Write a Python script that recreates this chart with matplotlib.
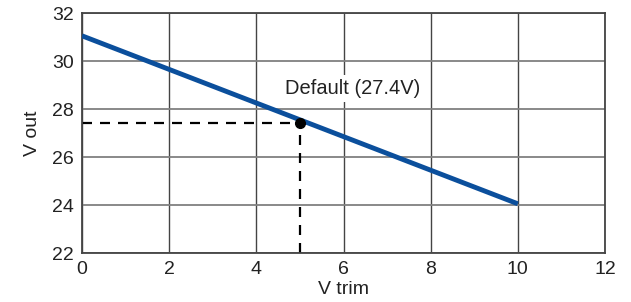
import numpy as np
import matplotlib.pyplot as plt

plt.rcParams['font.family'] = ['Liberation Sans', 'DejaVu Sans']

# Данные
v_trim = [0, 10]
v_out = [31.05, 24.05]
default_trim = 5
default_out = 27.4
x_ticks = [0, 2, 4, 6, 8, 10, 12]
y_ticks = [22, 24, 26, 28, 30, 32]

fig = plt.figure(figsize=(6.31, 3.02), dpi=100)
ax = fig.add_axes([82 / 631, 49 / 302, 523 / 631, 240 / 302])

# Сетка
ax.set_xlim(0, 12)
ax.set_ylim(22, 32)
ax.set_xticks(x_ticks)
ax.set_yticks(y_ticks)
ax.xaxis.grid(True, color='#444444', linewidth=1.0)
ax.yaxis.grid(True, color='#808080', linewidth=1.3)
ax.tick_params(length=0, labelsize=14, colors='#222222')
ax.tick_params(axis='x', pad=6)
ax.tick_params(axis='y', pad=6)
for s in ax.spines.values():
    s.set_color('#444444')
    s.set_linewidth(1.3)

# Основная линия
ax.plot(v_trim, v_out, color='#0b4f9c', linewidth=3.5, solid_capstyle='butt', zorder=3)

# Пунктир до точки по умолчанию
ax.plot([0, default_trim], [default_out, default_out], color='black',
        linestyle=(0, (4.5, 3.6)), linewidth=1.6, zorder=2)
ax.plot([default_trim, default_trim], [22, default_out], color='black',
        linestyle=(0, (4.5, 3.6)), linewidth=1.6, zorder=2)
ax.plot(default_trim, default_out, 'o', color='black', markersize=7, zorder=4)

ax.text(6.2, 28.85, 'Default (27.4V)', fontsize=14.5, color='#222222',
        ha='center', va='center', zorder=5,
        bbox=dict(facecolor='white', edgecolor='none', pad=3))

ax.set_xlabel('V trim', fontsize=14, labelpad=2, color='#222222')
ax.set_ylabel('V out', fontsize=14, labelpad=8, color='#222222')

fig.savefig('out.png', dpi=100)
